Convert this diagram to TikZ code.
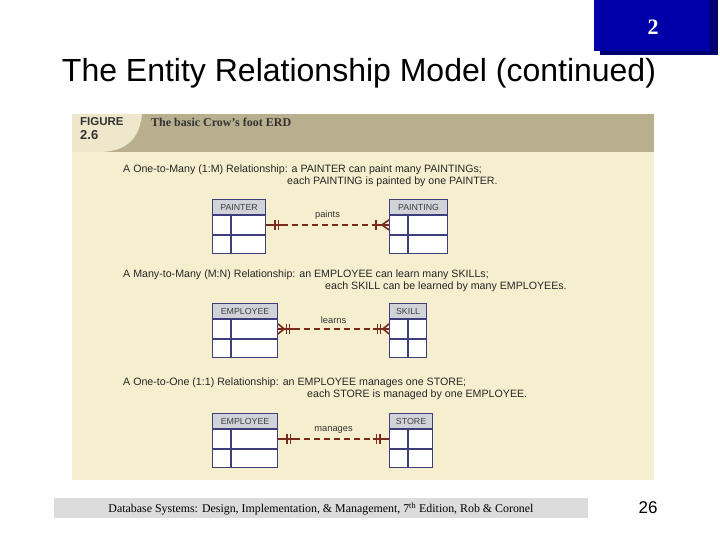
\documentclass[tikz,border=0pt]{standalone}
\usepackage{fontspec}
\setmainfont{Liberation Serif}
\setsansfont{Liberation Sans}
\usetikzlibrary{calc,positioning}

\definecolor{slideblue}{RGB}{0,0,168}
\definecolor{slideshadow}{RGB}{0,0,110}
\definecolor{figband}{RGB}{185,175,142}
\definecolor{figlabel}{RGB}{238,231,204}
\definecolor{figbody}{RGB}{246,239,207}
\definecolor{tblline}{RGB}{62,62,122}
\definecolor{tblhead}{RGB}{210,210,218}
\definecolor{relcol}{RGB}{122,44,28}
\definecolor{footgray}{RGB}{220,220,220}

\begin{document}
\begin{tikzpicture}[x=1pt, y=-1pt, font=\sffamily,
  tblhead/.style={draw=tblline, line width=1.1pt, fill=tblhead, inner sep=0pt, minimum height=15pt, text=black!75, font=\sffamily\fontsize{8.8}{9}\selectfont},
  tblrow/.style={draw=tblline, line width=1.1pt, fill=white, inner sep=0pt, minimum height=18.5pt},
  tbldiv/.style={draw=tblline, line width=1.1pt},
  rel/.style={draw=relcol, line width=1.6pt},
  reldash/.style={rel, dash pattern=on 6pt off 4pt, shorten <=16pt, shorten >=16pt},
  rellabel/.style={midway, above=1pt, text=black!80, font=\sffamily\fontsize{9.3}{10}\selectfont},
  stmt/.style={anchor=west, inner sep=0pt, text=black!85, font=\sffamily\fontsize{10.65}{12}\selectfont},
  onlyone/.pic={\draw[rel] (0,0) -- (16,0); \draw[rel] (9,-5) -- (9,5); \draw[rel] (12.5,-5) -- (12.5,5);},
  onemany/.pic={\draw[rel] (0,0) -- (16,0); \draw[rel] (0,-5) -- (7,0) -- (0,5); \draw[rel] (13,-5) -- (13,5);},
  manyone/.pic={\draw[rel] (0,0) -- (16,0); \draw[rel] (0,-5) -- (6,0) -- (0,5); \draw[rel] (8.5,-5) -- (8.5,5); \draw[rel] (11.5,-5) -- (11.5,5);}]
  \useasboundingbox (0,0) rectangle (720,540);

  % slide number box and title
  \fill[slideshadow] (600,0) rectangle (718,55);
  \fill[slideblue] (594,0) rectangle (710,51);
  \node[text=white, font=\rmfamily\bfseries\fontsize{22}{24}\selectfont](SlideNo) at (653,27){2};
  \node[font=\sffamily\fontsize{32}{36}\selectfont](Title) at (359,73){The Entity Relationship Model (continued)};

  % figure frame
  \fill[figbody] (72,114) rectangle (654,480);
  \fill[figband] (72,114) rectangle (654,152);
  \fill[figlabel] (72,114) -- (142,114) .. controls (139,146) and (118,152) .. (98,152) -- (72,152) -- cycle;
  \node[anchor=west, inner sep=0pt, text=black!80, font=\sffamily\bfseries\fontsize{11.5}{12}\selectfont](FigTag) at (80,122){FIGURE};
  \node[anchor=west, inner sep=0pt, text=black!80, font=\sffamily\bfseries\fontsize{13}{14}\selectfont](FigNo) at (80,135){2.6};
  \node[anchor=west, inner sep=0pt, text=black!80, font=\rmfamily\bfseries\fontsize{12}{13}\selectfont](FigName) at (151,122){The basic Crow's foot ERD};

  % one-to-many
  \node[stmt](OneManyA) at (123,170){A One-to-Many (1:M) Relationship: a PAINTER can paint many PAINTINGs;};
  \node[stmt](OneManyB) at (287,182){each PAINTING is painted by one PAINTER.};
  \node[tblhead, minimum width=53pt, anchor=north west](Painter) at (212,199){PAINTER};
  \node[tblrow, minimum width=53pt, below=0pt of Painter](PainterA){};
  \node[tblrow, minimum width=53pt, below=0pt of PainterA](PainterB){};
  \node[tblhead, minimum width=58pt, anchor=north west](Painting) at (389,199){PAINTING};
  \node[tblrow, minimum width=58pt, below=0pt of Painting](PaintingA){};
  \node[tblrow, minimum width=58pt, below=0pt of PaintingA](PaintingB){};

  % many-to-many
  \node[stmt](ManyManyA) at (123,275){A Many-to-Many (M:N) Relationship: an EMPLOYEE can learn many SKILLs;};
  \node[stmt](ManyManyB) at (325,287){each SKILL can be learned by many EMPLOYEEs.};
  \node[tblhead, minimum width=65pt, anchor=north west](Employee) at (212,303){EMPLOYEE};
  \node[tblrow, minimum width=65pt, below=0pt of Employee](EmployeeA){};
  \node[tblrow, minimum width=65pt, below=0pt of EmployeeA](EmployeeB){};
  \node[tblhead, minimum width=37pt, anchor=north west](Skill) at (389,303){SKILL};
  \node[tblrow, minimum width=37pt, below=0pt of Skill](SkillA){};
  \node[tblrow, minimum width=37pt, below=0pt of SkillA](SkillB){};

  % one-to-one
  \node[stmt](OneOneA) at (123,383){A One-to-One (1:1) Relationship: an EMPLOYEE manages one STORE;};
  \node[stmt](OneOneB) at (307,395){each STORE is managed by one EMPLOYEE.};
  \node[tblhead, minimum width=65pt, anchor=north west](Manager) at (212,413){EMPLOYEE};
  \node[tblrow, minimum width=65pt, below=0pt of Manager](ManagerA){};
  \node[tblrow, minimum width=65pt, below=0pt of ManagerA](ManagerB){};
  \node[tblhead, minimum width=43pt, anchor=north west](Store) at (389,413){STORE};
  \node[tblrow, minimum width=43pt, below=0pt of Store](StoreA){};
  \node[tblrow, minimum width=43pt, below=0pt of StoreA](StoreB){};

  % column dividers
  \foreach \t in {Painter,Painting,Employee,Skill,Manager,Store}
    \draw[tbldiv] ($(\t A.north west)+(19,0)$) -- ($(\t B.south west)+(19,0)$);

  % relationships
  \draw[reldash] (PainterA) -- (PaintingA) node[rellabel]{paints};
  \pic at (PainterA.east) {onlyone};
  \pic[xscale=-1] at (PaintingA.west) {onemany};

  \draw[reldash] (EmployeeA) -- (SkillA) node[rellabel]{learns};
  \pic at (EmployeeA.east) {manyone};
  \pic[xscale=-1] at (SkillA.west) {manyone};

  \draw[reldash] (ManagerA) -- (StoreA) node[rellabel]{manages};
  \pic at (ManagerA.east) {onlyone};
  \pic[xscale=-1] at (StoreA.west) {onlyone};

  % footer
  \fill[footgray] (54,498) rectangle (588,518);
  \node[font=\rmfamily\fontsize{11.9}{12}\selectfont](Source) at (321,509){Database Systems: Design, Implementation, \& Management, 7\textsuperscript{th} Edition, Rob \& Coronel};
  \node[font=\sffamily\fontsize{17}{18}\selectfont](PageNo) at (648,508){26};
\end{tikzpicture}
\end{document}
